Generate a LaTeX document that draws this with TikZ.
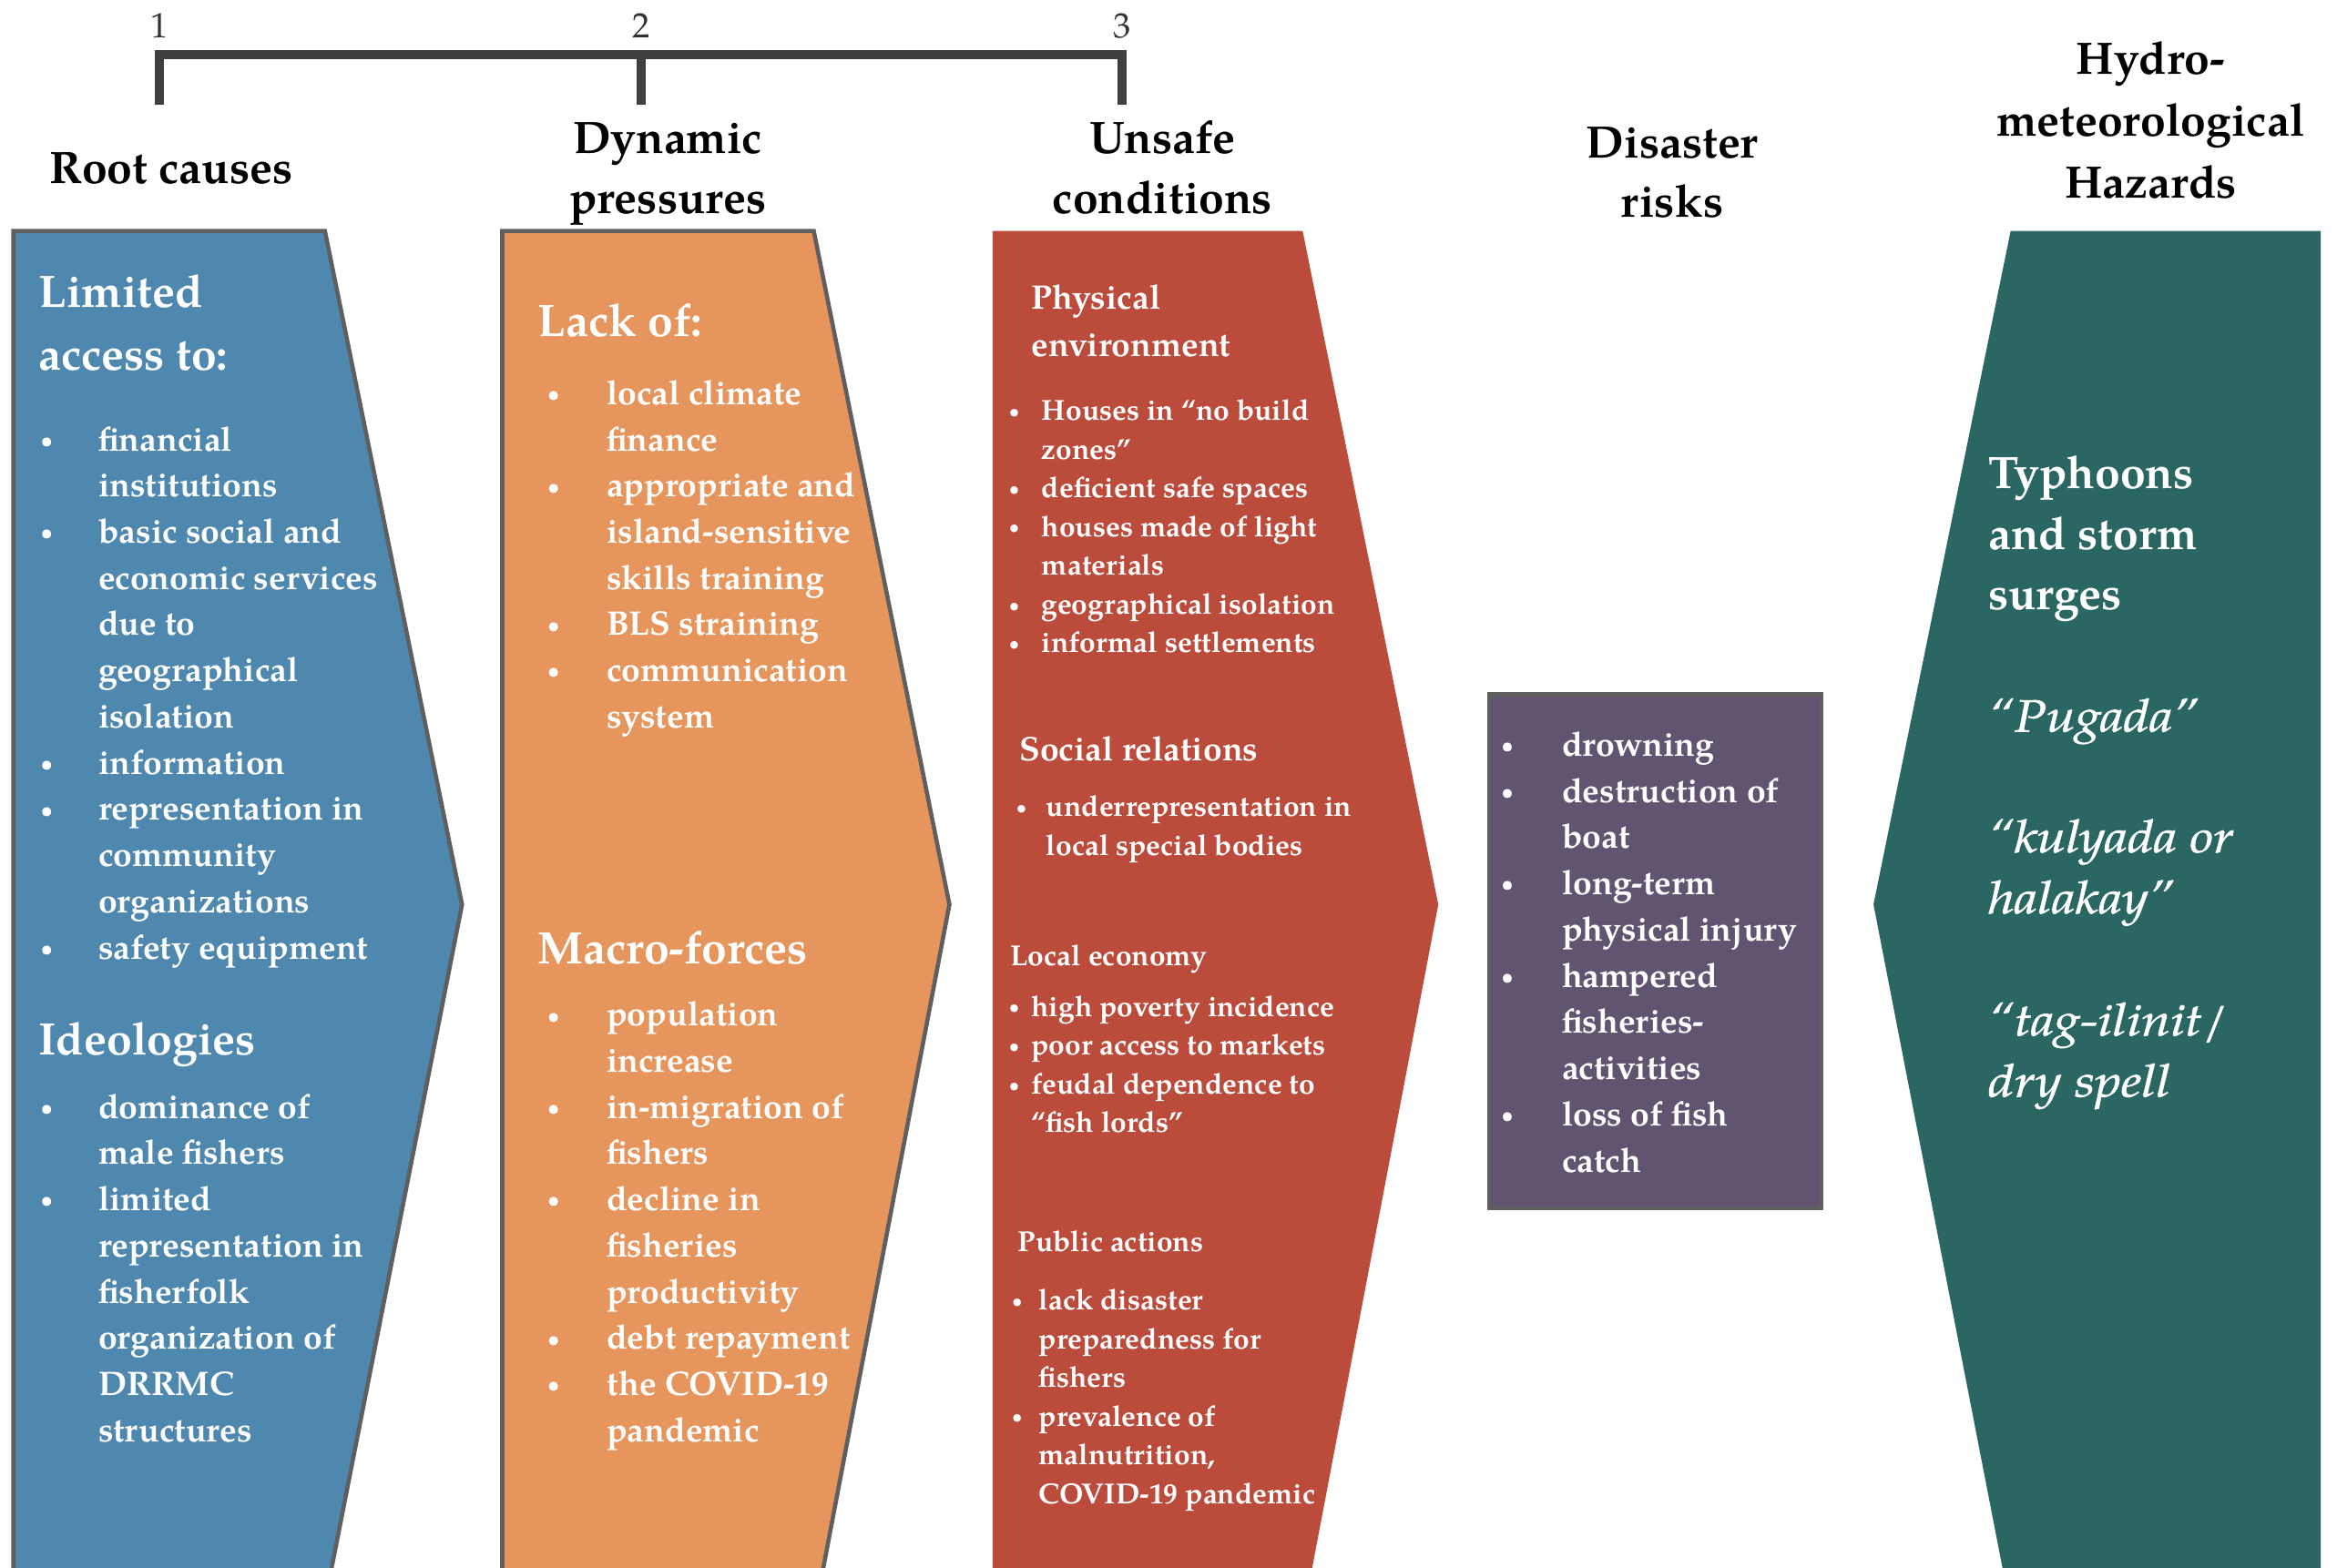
\documentclass[tikz,border=0pt]{standalone}
\usepackage{fontspec}
\setmainfont{texgyrepagella}[Extension=.otf,UprightFont=*-regular,BoldFont=*-bold,ItalicFont=*-italic,BoldItalicFont=*-bolditalic]
\definecolor{cblue}{HTML}{4E88AF}
\definecolor{corange}{HTML}{E6955C}
\definecolor{cred}{HTML}{BB4B3B}
\definecolor{cpurple}{HTML}{615470}
\definecolor{cteal}{HTML}{2A6762}
\definecolor{coutl}{HTML}{5F5F5F}
\definecolor{cbar}{HTML}{404040}
\newcommand{\smbul}{\raisebox{0.1em}{\fontsize{0.6em}{0pt}\selectfont\textbullet}}
\newcommand{\bitm}[2]{\makebox[#1pt][l]{\hspace{0.1em}\smbul}#2}
\newcommand{\bcont}[2]{\hspace*{#1pt}#2}
\begin{document}
\begin{tikzpicture}[x=1pt,y=-1pt,
  outl/.style={draw=coutl,line width=2.8pt,line join=miter},
  bar/.style={draw=cbar,line width=6.2pt,line join=miter},
  wtxt/.style={inner sep=0pt,outer sep=0pt,anchor=north west,align=left,text=white},
  head/.style={inner sep=0pt,outer sep=0pt,anchor=north,align=center,text=black,font=\bfseries\fontsize{30.5}{40}\selectfont},
  num/.style={inner sep=0pt,anchor=base,text=black!80,font=\fontsize{23.6}{28}\selectfont},
  big/.style={font=\bfseries\fontsize{30.5}{42}\selectfont},
  mid/.style={font=\bfseries\fontsize{22.8}{31}\selectfont},
  sml/.style={font=\bfseries\fontsize{19.4}{26}\selectfont},
  ital/.style={font=\itshape\fontsize{30.5}{41}\selectfont\addfontfeatures{FakeStretch=1.15,FakeBold=1.2}}]
\useasboundingbox (0,0) rectangle (1568,1051.7);
\begin{scope}
\clip (0,0) rectangle (1568,1051.7);
% shapes
\fill[cblue] (9,155) -- (218,155) -- (310,607) -- (219,1070) -- (9,1070) -- cycle;
\draw[outl] (9,1070) -- (9,155) -- (218,155) -- (310,607) -- (219,1070);
\fill[corange] (337,155) -- (546,155) -- (637,607) -- (549,1070) -- (337,1070) -- cycle;
\draw[outl] (337,1070) -- (337,155) -- (546,155) -- (637,607) -- (549,1070);
\fill[cred] (666,155) -- (874,155) -- (965,607) -- (877,1070) -- (666,1070) -- cycle;
\fill[cpurple] (999,466) rectangle (1222,811);
\draw[outl] (999,466) rectangle (1222,811);
\fill[cteal] (1349,155) -- (1557,155) -- (1557,1070) -- (1347,1070) -- (1257,607) -- cycle;
\end{scope}
% scale bar
\draw[bar] (107,70.3) -- (107,36.7) -- (753,36.7) -- (753,70.3);
\draw[bar] (430,36.7) -- (430,70.3);
\node[num] (n1) at (107,25.5) {1};
\node[num] (n2) at (430,25.5) {2};
\node[num] (n3) at (753,25.5) {3};
% headings
\node[head] (h1) at (115,92.5) {\rule{0pt}{30.5pt}Root causes};
\node[head] (h2) at (448,72.5) {\rule{0pt}{30.5pt}Dynamic\\pressures};
\node[head] (h3) at (780,72.5) {\rule{0pt}{30.5pt}Unsafe\\conditions};
\node[head] (h4) at (1122,75.5) {\rule{0pt}{30.5pt}Disaster\\risks};
\node[head,font=\bfseries\fontsize{30.5}{41.5}\selectfont] (h5) at (1443,19.5) {\rule{0pt}{30.5pt}Hydro-\\meteorological\\Hazards};
% blue
\node[wtxt,big] (b1) at (26,176) {\rule{0pt}{30.5pt}Limited\\access to:};
\node[wtxt,mid] (b2) at (25,279.7) {\rule{0pt}{22.8pt}\bitm{41}{financial}\\
\bcont{41}{institutions}\\
\bitm{41}{basic social and}\\
\bcont{41}{economic services}\\
\bcont{41}{due to}\\
\bcont{41}{geographical}\\
\bcont{41}{isolation}\\
\bitm{41}{information}\\
\bitm{41}{representation in}\\
\bcont{41}{community}\\
\bcont{41}{organizations}\\
\bitm{41}{safety equipment}};
\node[wtxt,big] (b3) at (26,677.5) {\rule{0pt}{30.5pt}Ideologies};
\node[wtxt,mid] (b4) at (25,727.7) {\rule{0pt}{22.8pt}\bitm{41}{dominance of}\\
\bcont{41}{male fishers}\\
\bitm{41}{limited}\\
\bcont{41}{representation in}\\
\bcont{41}{fisherfolk}\\
\bcont{41}{organization of}\\
\bcont{41}{DRRMC}\\
\bcont{41}{structures}};
% orange
\node[wtxt,big] (o1) at (361,195.5) {\rule{0pt}{30.5pt}Lack of:};
\node[wtxt,mid] (o2) at (365,248.7) {\rule{0pt}{22.8pt}\bitm{42}{local climate}\\
\bcont{42}{finance}\\
\bitm{42}{appropriate and}\\
\bcont{42}{island-sensitive}\\
\bcont{42}{skills training}\\
\bitm{42}{BLS straining}\\
\bitm{42}{communication}\\
\bcont{42}{system}};
\node[wtxt,big] (o3) at (361,616.5) {\rule{0pt}{30.5pt}Macro-forces};
\node[wtxt,mid] (o4) at (365,665.7) {\rule{0pt}{22.8pt}\bitm{42}{population}\\
\bcont{42}{increase}\\
\bitm{42}{in-migration of}\\
\bcont{42}{fishers}\\
\bitm{42}{decline in}\\
\bcont{42}{fisheries}\\
\bcont{42}{productivity}\\
\bitm{42}{debt repayment}\\
\bitm{42}{the COVID-19}\\
\bcont{42}{pandemic}};
% red
\node[wtxt,font=\bfseries\fontsize{22.8}{32}\selectfont] (r1) at (692,184.7) {\rule{0pt}{22.8pt}Physical\\environment};
\node[wtxt,sml] (r2) at (675,262.6) {\rule{0pt}{19.4pt}\bitm{24}{Houses in “no build}\\
\bcont{24}{zones”}\\
\bitm{24}{deficient safe spaces}\\
\bitm{24}{houses made of light}\\
\bcont{24}{materials}\\
\bitm{24}{geographical isolation}\\
\bitm{24}{informal settlements}};
\node[wtxt,mid] (r3) at (684,487.7) {\rule{0pt}{22.8pt}Social relations};
\node[wtxt,sml] (r4) at (680,528.6) {\rule{0pt}{19.4pt}\bitm{22}{underrepresentation in}\\
\bcont{22}{local special bodies}};
\node[wtxt,sml] (r5) at (678,628.6) {\rule{0pt}{19.4pt}Local economy};
\node[wtxt,sml] (r6) at (675,662.6) {\rule{0pt}{19.4pt}\bitm{17}{high poverty incidence}\\
\bitm{17}{poor access to markets}\\
\bitm{17}{feudal dependence to}\\
\bcont{17}{“fish lords”}};
\node[wtxt,sml] (r7) at (683,820.6) {\rule{0pt}{19.4pt}Public actions};
\node[wtxt,sml] (r8) at (677,859.6) {\rule{0pt}{19.4pt}\bitm{20}{lack disaster}\\
\bcont{20}{preparedness for}\\
\bcont{20}{fishers}\\
\bitm{20}{prevalence of}\\
\bcont{20}{malnutrition,}\\
\bcont{20}{COVID-19 pandemic}};
% purple
\node[wtxt,mid] (p1) at (1005,484.7) {\rule{0pt}{22.8pt}\bitm{43}{drowning}\\
\bitm{43}{destruction of}\\
\bcont{43}{boat}\\
\bitm{43}{long-term}\\
\bcont{43}{physical injury}\\
\bitm{43}{hampered}\\
\bcont{43}{fisheries-}\\
\bcont{43}{activities}\\
\bitm{43}{loss of fish}\\
\bcont{43}{catch}};
% teal
\node[wtxt,font=\bfseries\fontsize{30.5}{40.5}\selectfont] (t1) at (1334,297.5) {\rule{0pt}{30.5pt}Typhoons\\and storm\\surges};
\node[wtxt,ital] (t2) at (1334,460.5) {\rule{0pt}{30.5pt}“Pugada”};
\node[wtxt,ital] (t3) at (1334,541.5) {\rule{0pt}{30.5pt}“kulyada or\\halakay”};
\node[wtxt,ital] (t4) at (1334,664.5) {\rule{0pt}{30.5pt}“tag-ilinit/\\dry spell};
\end{tikzpicture}
\end{document}
